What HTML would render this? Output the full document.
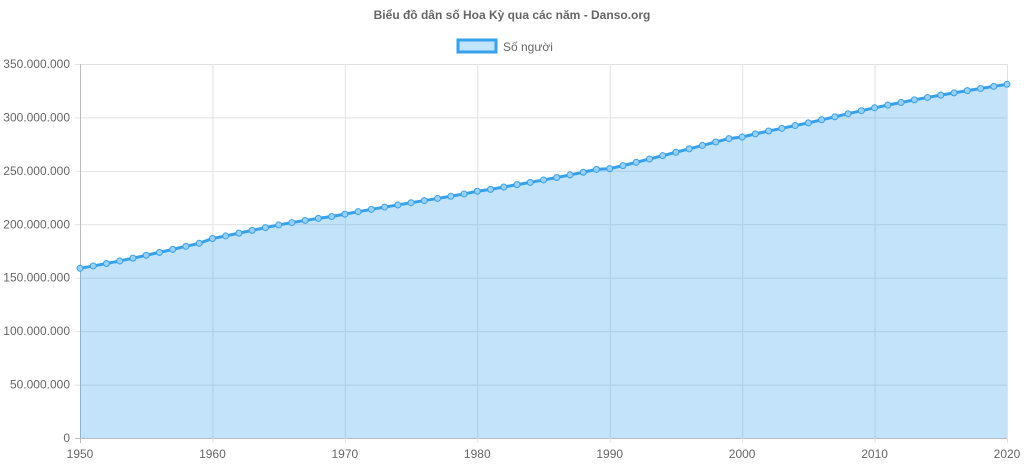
<!DOCTYPE html>
<html><head><meta charset="utf-8"><style>
body{margin:0;background:#fff;}
svg text{font-family:"Liberation Sans",sans-serif;}
</style></head><body>
<svg id="chart" width="1024" height="467" xmlns="http://www.w3.org/2000/svg">
<text x="512" y="19" text-anchor="middle" font-size="12" font-weight="bold" fill="#666">Biểu đồ dân số Hoa Kỳ qua các năm - Danso.org</text>
<g>
<rect x="458" y="40" width="38" height="12" fill="#c2e4fb" stroke="#36a2eb" stroke-width="3"/>
<text x="503" y="51" font-size="12" fill="#666">Số người</text>
</g>
<g id="grid"></g><g id="series"></g><g id="axes"></g>
</svg>
<script>
const years=[];for(let y=1950;y<=2020;y++)years.push(y);
const population=[158.8,161.0,163.3,165.7,168.3,171.0,173.7,176.5,179.4,182.2,186.7,189.1,191.7,194.3,196.9,199.4,201.6,203.6,205.5,207.3,209.5,211.8,214.0,216.1,218.1,220.2,222.2,224.2,226.2,228.4,230.9,232.7,234.9,237.1,239.2,241.5,243.8,246.2,248.7,251.4,252.1,254.9,258.0,261.1,264.2,267.4,270.6,273.8,277.0,280.2,281.7,284.6,287.3,289.8,292.4,294.9,297.8,300.6,303.5,306.3,309.0,311.6,314.0,316.4,318.7,320.9,323.0,325.1,327.1,329.1,331.0];
const yTicks=[0,50,100,150,200,250,300,350];
const xTicks=[1950,1960,1970,1980,1990,2000,2010,2020];
const X0=80,X1=1007,Y0=438,Y1=64;
const xs=v=>X0+(v-1950)/70*(X1-X0);
const ys=v=>Y0-v/350*(Y0-Y1);
const NS="http://www.w3.org/2000/svg";
function mk(t,a,p){const e=document.createElementNS(NS,t);for(const k in a)e.setAttribute(k,a[k]);p.appendChild(e);return e;}
const grid=document.getElementById('grid'),axes=document.getElementById('axes'),series=document.getElementById('series');
const fmt=v=>v===0?'0':(v*1000000).toString().replace(/\B(?=(\d{3})+(?!\d))/g,'.');
yTicks.forEach(v=>{
 const l=mk('line',{x1:X0-5,x2:X1,y1:ys(v)+.5,y2:ys(v)+.5,stroke:v===0?'#bbb':'#e2e2e2'},grid);
 
 
 const t=mk('text',{x:X0-10,y:ys(v)+4,'text-anchor':'end','font-size':12,fill:'#666'},axes);t.textContent=fmt(v);
 
 
});
xTicks.forEach(v=>{
 const l=mk('line',{x1:xs(v)+.5,x2:xs(v)+.5,y1:Y1,y2:Y0+5,stroke:v===1950?'#bbb':'#e2e2e2'},grid);
 
 
 const t=mk('text',{x:xs(v),y:Y0+20,'text-anchor':'middle','font-size':12,fill:'#666'},axes);t.textContent=v;
 
 
});
let d='',ad='M'+xs(years[0])+','+Y0;
years.forEach((y,i)=>{d+=(i?'L':'M')+xs(y)+','+ys(population[i]);ad+='L'+xs(y)+','+ys(population[i]);});
ad+='L'+xs(years[years.length-1])+','+Y0+'Z';
const area=mk('path',{d:ad,fill:'rgba(54,162,235,0.3)'},series);


const line=mk('path',{d:d,fill:'none',stroke:'#36a2eb','stroke-width':3},series);


years.forEach((y,i)=>{
 const c=mk('circle',{cx:xs(y),cy:ys(population[i]),r:3,fill:'#9ad0f5',stroke:'#36a2eb','stroke-width':1},series);
 
 
});
</script>
</body></html>
